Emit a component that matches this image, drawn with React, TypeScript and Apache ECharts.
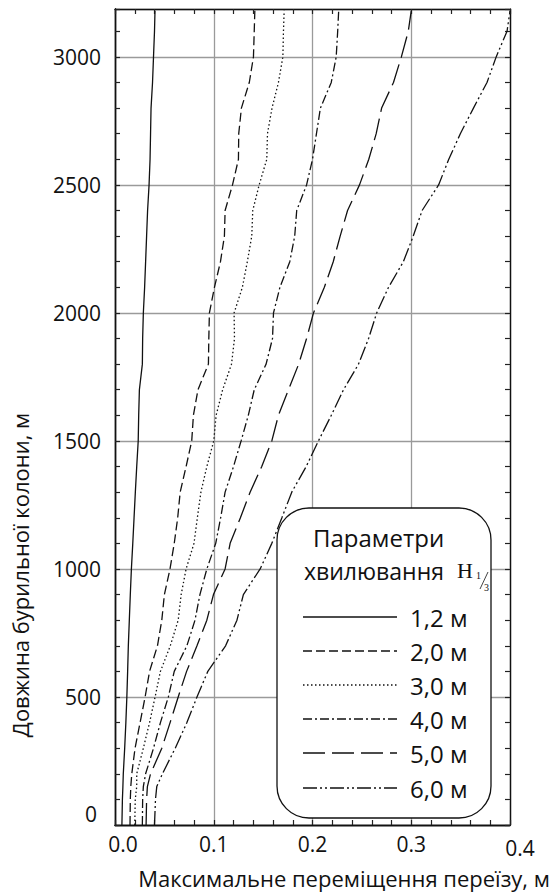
import React, { useEffect, useRef } from "react";
import * as echarts from "echarts";

// Depth along drill string, m
const depths = [0, 100, 150, 200, 300, 400, 500, 600, 700, 800, 900, 1000, 1100, 1200, 1300, 1400, 1500, 1600, 1700, 1800, 1900, 2000, 2100, 2200, 2300, 2400, 2500, 2600, 2700, 2800, 2900, 3000, 3100, 3180];

// Maximum displacement, m, for wave heights H1/3
const h12 = [0.007, 0.0075, 0.008, 0.0084, 0.0098, 0.011, 0.012, 0.0128, 0.0135, 0.0145, 0.0155, 0.0166, 0.018, 0.0193, 0.0206, 0.022, 0.0235, 0.024, 0.0247, 0.0277, 0.028, 0.0287, 0.03, 0.031, 0.032, 0.033, 0.0345, 0.0355, 0.036, 0.0365, 0.038, 0.039, 0.04, 0.0405];
const h20 = [0.0152, 0.0155, 0.016, 0.017, 0.0203, 0.0254, 0.0305, 0.035, 0.043, 0.0474, 0.05, 0.0557, 0.06, 0.0635, 0.066, 0.072, 0.0777, 0.0794, 0.084, 0.0946, 0.095, 0.0956, 0.1007, 0.1068, 0.1108, 0.1115, 0.119, 0.125, 0.1253, 0.128, 0.136, 0.1402, 0.141, 0.1416];
const h30 = [0.02, 0.0205, 0.022, 0.022, 0.0287, 0.035, 0.0406, 0.046, 0.056, 0.064, 0.067, 0.072, 0.08, 0.0834, 0.087, 0.093, 0.1, 0.1024, 0.109, 0.118, 0.121, 0.1206, 0.129, 0.134, 0.1385, 0.1395, 0.146, 0.1537, 0.1544, 0.159, 0.1655, 0.17, 0.1706, 0.1713];
const h40 = [0.0277, 0.028, 0.0287, 0.031, 0.039, 0.046, 0.054, 0.06, 0.0728, 0.081, 0.086, 0.093, 0.102, 0.107, 0.1115, 0.12, 0.1277, 0.135, 0.141, 0.153, 0.1595, 0.1605, 0.167, 0.177, 0.182, 0.184, 0.194, 0.2, 0.204, 0.208, 0.219, 0.224, 0.2255, 0.2265];
const h50 = [0.0315, 0.032, 0.0328, 0.036, 0.0474, 0.0558, 0.064, 0.0725, 0.083, 0.093, 0.0997, 0.1115, 0.1166, 0.127, 0.1368, 0.1486, 0.1588, 0.1655, 0.1757, 0.186, 0.194, 0.201, 0.212, 0.221, 0.228, 0.2355, 0.2476, 0.257, 0.2645, 0.27, 0.282, 0.29, 0.297, 0.3];
const h60 = [0.04, 0.041, 0.0423, 0.048, 0.061, 0.0728, 0.083, 0.094, 0.112, 0.1235, 0.13, 0.147, 0.1588, 0.169, 0.179, 0.1936, 0.206, 0.219, 0.2314, 0.2466, 0.2568, 0.265, 0.277, 0.292, 0.302, 0.311, 0.3277, 0.338, 0.3497, 0.363, 0.3767, 0.386, 0.397, 0.4];

const seriesNames = ["1,2 м", "2,0 м", "3,0 м", "4,0 м", "5,0 м", "6,0 м"];
const seriesValues = [h12, h20, h30, h40, h50, h60];

const yTicks = [0, 500, 1000, 1500, 2000, 2500, 3000];

const xTitle = "Максимальне переміщення переїзу, м";
const yTitle = "Довжина бурильної колони, м";
const legendTitle1 = "Параметри";
const legendTitle2 = "хвилювання";

const FONT = "'Open Sans', 'Noto Sans', sans-serif";
const dashes: any[] = ["solid", [9, 4], [1.5, 2.5], [9, 3, 2, 3], [22, 7], [14, 3, 2, 3, 2, 3]];

export default function App() {
  const ref = useRef<HTMLDivElement>(null);
  useEffect(() => {
    document.body.style.margin = "0";
    if (!ref.current) return;
    const chart = echarts.init(ref.current, null, { renderer: "svg" });
    const gridLeft = 115, gridTop = 9, gridRight = 42, gridBottom = 70;
    const yMax = 3187;

    const series = seriesValues.map((vals, i) => ({
      name: seriesNames[i],
      type: "line",
      xAxisIndex: 0,
      yAxisIndex: 0,
      showSymbol: false,
      symbol: "none",
      data: vals.map((v, k) => [v, depths[k]]),
      lineStyle: { color: "#111", width: 1.3, type: dashes[i] },
      z: 3,
    }));

    const LF = 24;
    const legendRowY = [617, 651, 685, 719, 753, 788];
    const legendEls: any[] = [
      {
        type: "rect",
        shape: { x: 277, y: 508, width: 214, height: 310, r: 32 },
        style: { fill: "#fff", stroke: "#111", lineWidth: 1.3 },
        z: 10,
      },
      {
        type: "text",
        x: 313,
        y: 537,
        z: 11,
        style: { text: legendTitle1, fontSize: LF, fontFamily: FONT, fill: "#111", align: "left", verticalAlign: "middle" },
      },
      {
        type: "text",
        x: 304,
        y: 571,
        z: 11,
        style: { text: legendTitle2, fontSize: 23, fontFamily: FONT, fill: "#111", align: "left", verticalAlign: "middle" },
      },
      {
        type: "text",
        x: 457,
        y: 570,
        z: 11,
        style: { text: "H", fontSize: 22, fontFamily: "'Liberation Serif', 'DejaVu Serif', serif", fill: "#111", align: "left", verticalAlign: "middle" },
      },
      {
        type: "text",
        x: 476,
        y: 575,
        z: 11,
        style: { text: "1", fontSize: 10, fontFamily: "'Liberation Serif', serif", fill: "#111", align: "left", verticalAlign: "middle" },
      },
      {
        type: "line",
        shape: { x1: 480, y1: 589, x2: 488, y2: 572 },
        style: { stroke: "#111", lineWidth: 0.8 },
        z: 11,
      },
      {
        type: "text",
        x: 484,
        y: 587,
        z: 11,
        style: { text: "3", fontSize: 10, fontFamily: "'Liberation Serif', serif", fill: "#111", align: "left", verticalAlign: "middle" },
      },
    ];
    seriesNames.forEach((name, i) => {
      legendEls.push({
        type: "line",
        shape: { x1: 303, y1: legendRowY[i], x2: 397, y2: legendRowY[i] },
        style: { stroke: "#111", lineWidth: 1.3, lineDash: i === 0 ? null : dashes[i] },
        z: 11,
      });
      legendEls.push({
        type: "text",
        x: 410,
        y: legendRowY[i],
        z: 11,
        style: { text: name, fontSize: LF, fontFamily: FONT, fill: "#111", align: "left", verticalAlign: "middle" },
      });
    });

    const titleEls: any[] = [
      {
        type: "text",
        x: 344,
        y: 878,
        style: { text: xTitle, fontSize: 22, fontFamily: FONT, fill: "#111", align: "center", verticalAlign: "middle" },
      },
      {
        type: "text",
        x: 20,
        y: 575,
        rotation: Math.PI / 2,
        style: { text: yTitle, fontSize: 22, fontFamily: FONT, fill: "#111", align: "center", verticalAlign: "middle" },
      },
    ];

    const axisLineStyle = { color: "#111", width: 1.4 };
    const tick = () => ({ color: "#222", width: 1.2 });
    const gridLine = { show: true, lineStyle: { color: "#9a9a9a", width: 1.3 } };
    const tickOnlyX = (pos: string, inside: boolean, len: number) => ({
      type: "value",
      position: pos,
      min: 0,
      max: 0.4,
      interval: 0.1,
      axisLine: { show: true, onZero: false, lineStyle: axisLineStyle },
      axisTick: { show: true, inside, length: len, lineStyle: tick() },
      minorTick: { show: true, splitNumber: 5, length: len, lineStyle: tick() },
      splitLine: { show: false },
      axisLabel: { show: false },
    });
    const tickOnlyY = (pos: string) => ({
      type: "value",
      position: pos,
      min: 0,
      max: yMax,
      interval: 100,
      axisLine: { show: true, onZero: false, lineStyle: axisLineStyle },
      axisTick: { show: true, inside: true, length: 5, lineStyle: tick() },
      splitLine: { show: false },
      axisLabel: { show: false },
    });

    chart.setOption({
      animation: false,
      backgroundColor: "#fff",
      grid: { left: gridLeft, top: gridTop, right: gridRight, bottom: gridBottom, containLabel: false },
      xAxis: [
        {
          type: "value",
          position: "bottom",
          min: 0,
          max: 0.4,
          interval: 0.1,
          axisLine: { show: true, onZero: false, lineStyle: axisLineStyle },
          axisTick: { show: false },
          splitLine: gridLine,
          axisLabel: {
            fontSize: 21,
            fontFamily: FONT,
            color: "#111",
            margin: 8,
            formatter: (v: number) => {
              const s = v.toFixed(1);
              if (Math.abs(v) < 1e-9) return "{a|" + s + "}";
              if (Math.abs(v - 0.4) < 1e-9) return "{b|" + s + "}";
              return s;
            },
            rich: {
              a: { fontSize: 21, fontFamily: FONT, color: "#111", padding: [0, 0, 0, 16] },
              b: { fontSize: 21, fontFamily: FONT, color: "#111", padding: [4, 0, 0, 20] },
            },
          },
        },
        tickOnlyX("top", true, 5),
        tickOnlyX("bottom", false, -5),
      ],
      yAxis: [
        {
          type: "value",
          position: "left",
          min: 0,
          max: yMax,
          interval: 500,
          axisLine: { show: true, onZero: false, lineStyle: axisLineStyle },
          axisTick: { show: false },
          splitLine: gridLine,
          axisLabel: {
            fontSize: 21,
            fontFamily: FONT,
            color: "#111",
            margin: 14,
            customValues: yTicks,
            formatter: (v: number) => (v === 0 ? "{z|0}" : String(v)),
            rich: { z: { fontSize: 21, fontFamily: FONT, color: "#111", padding: [0, 4, 22, 0] } },
          },
        },
        tickOnlyY("left"),
        tickOnlyY("right"),
      ],
      series,
      graphic: { elements: [...legendEls, ...titleEls] },
    });
    return () => chart.dispose();
  }, []);
  return <div ref={ref} style={{ width: 552, height: 895 }} />;
}
